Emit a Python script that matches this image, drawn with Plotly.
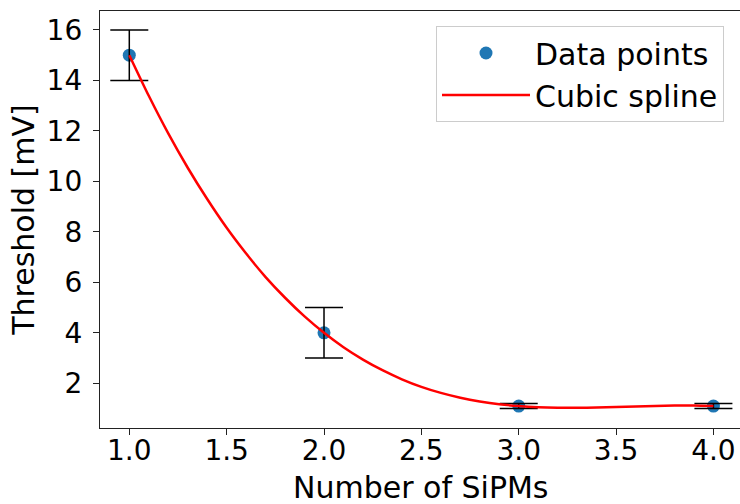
import plotly.graph_objects as go

# Measured data points
sipms = [1, 2, 3, 4]
threshold = [15.0, 4.0, 1.1, 1.1]
threshold_err = [1.0, 1.0, 0.1, 0.1]

# Cubic spline curve
curve_x = [1.0, 1.1, 1.2, 1.3, 1.4, 1.5, 1.6, 1.7, 1.8, 1.9,
           2.0, 2.1, 2.2, 2.3, 2.4, 2.5, 2.6, 2.7, 2.8, 2.9,
           3.0, 3.1, 3.2, 3.3, 3.4, 3.5, 3.6, 3.7, 3.8, 3.9, 4.0]
curve_y = [15.0, 13.39, 11.90, 10.54, 9.30, 8.16, 7.14, 6.21, 5.39, 4.65,
           4.00, 3.43, 2.94, 2.52, 2.16, 1.86, 1.62, 1.43, 1.28, 1.17,
           1.10, 1.055, 1.034, 1.032, 1.043, 1.062, 1.085, 1.105, 1.117, 1.118, 1.10]

x_ticks = [1.0, 1.5, 2.0, 2.5, 3.0, 3.5, 4.0]
y_ticks = [2, 4, 6, 8, 10, 12, 14, 16]

FONT = "DejaVu Sans"

fig = go.Figure()

fig.add_trace(go.Scatter(
    x=sipms, y=threshold, mode="markers", name="Data points",
    marker=dict(color="#1f77b4", size=13),
))

fig.add_trace(go.Scatter(
    x=sipms, y=threshold, mode="markers", showlegend=False,
    marker=dict(color="rgba(0,0,0,0)", size=1),
    error_y=dict(type="data", array=threshold_err, visible=True,
                 color="black", thickness=1.5, width=19),
    hoverinfo="skip",
))

fig.add_trace(go.Scatter(
    x=curve_x, y=curve_y, mode="lines", name="Cubic spline",
    line=dict(color="red", width=2.5, shape="spline", smoothing=0.6),
))

fig.update_layout(
    width=740, height=504,
    margin=dict(l=100, r=0, t=11, b=76),
    paper_bgcolor="white", plot_bgcolor="white",
    font=dict(family=FONT, size=28, color="black"),
    showlegend=True,
    legend=dict(
        x=(724 - 100) / 640, y=(428 - 26) / 417, xanchor="right", yanchor="top",
        bgcolor="rgba(255,255,255,0.8)", bordercolor="#cccccc", borderwidth=1,
        font=dict(family=FONT, size=30, color="black"),
        itemwidth=88, tracegroupgap=0,
    ),
    annotations=[dict(
        text="Number of SiPMs", xref="paper", yref="paper",
        x=0.5, y=-76 / 417, xanchor="center", yanchor="bottom", yshift=-3,
        showarrow=False, font=dict(family=FONT, size=30, color="black"),
    )],
)

fig.update_xaxes(
    range=[0.8495, 4.1365], tickvals=x_ticks, ticktext=[f"{v:.1f}" for v in x_ticks],
    showline=True, linecolor="#222222", linewidth=1.3, mirror=True,
    ticks="outside", ticklen=6, tickwidth=1.3, tickcolor="#222222",
    showgrid=False, zeroline=False, ticklabelstandoff=-9,
    tickfont=dict(family=FONT, size=28),
)

fig.update_yaxes(
    range=[0.23, 16.75], tickvals=y_ticks,
    showline=True, linecolor="#222222", linewidth=1.3, mirror=False,
    ticks="outside", ticklen=6, tickwidth=1.3, tickcolor="#222222",
    showgrid=False, zeroline=False, ticklabelstandoff=5,
    tickfont=dict(family=FONT, size=28),
    title=dict(text="Threshold [mV]", font=dict(family=FONT, size=30), standoff=3),
)

fig.write_html("out.html")
